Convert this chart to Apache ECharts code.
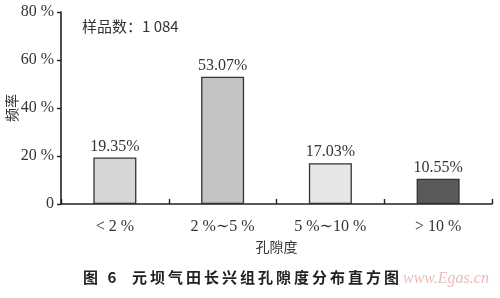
<!DOCTYPE html>
<html>
<head>
<meta charset="utf-8">
<style>
  html, body { margin: 0; padding: 0; background: #fff; }
  #chart { width: 500px; height: 298px; }
</style>
<script src="https://cdn.jsdelivr.net/npm/echarts@6/dist/echarts.min.js"></script>
</head>
<body>
<div id="chart"></div>
<script>
// Porosity classes and their share of the samples (%)
const categories = ['< 2 %', '2 %~5 %', '5 %~10 %', '> 10 %'];
const frequencies = [19.35, 53.07, 17.03, 10.55];
const barColors = ['#d6d6d6', '#c4c4c4', '#e6e6e6', '#5a5a5a'];
const yTicks = [0, 20, 40, 60, 80];
const sampleNote = '样品数：1 084';
const figureTitle = '图 6  元坝气田长兴组孔隙度分布直方图';

const serif = '"Liberation Serif", "DejaVu Serif", serif';
const cjk = '"Noto Sans CJK SC", sans-serif';

// spread CJK glyphs apart with thin spaces, the way the caption is typeset
function spaced(s) { return s.split('').join('\u2009'); }

const chart = echarts.init(document.getElementById('chart'), null, { renderer: 'canvas' });

chart.setOption({
  animation: false,
  backgroundColor: '#ffffff',
  grid: { left: 61, right: 8, top: 12, bottom: 94, containLabel: false, outerBoundsMode: 'none' },
  title: [
    {
      text: spaced(figureTitle),
      left: 78, top: 265,
      textStyle: { fontFamily: cjk, fontSize: 15, fontWeight: 'bold', color: '#222' }
    },
    {
      text: 'www.Egas.cn',
      left: 398, top: 266,
      textStyle: { fontFamily: serif, fontSize: 16, fontStyle: 'italic', fontWeight: 'normal', color: 'rgba(214,120,120,0.5)' }
    }
  ],
  graphic: [
    {
      type: 'text',
      left: 82, top: 19,
      style: {
        text: sampleNote,
        font: '15px "Noto Sans CJK SC", "Liberation Serif", serif',
        fill: '#333'
      }
    }
  ],
  xAxis: {
    type: 'category',
    data: categories,
    name: '孔隙度',
    nameLocation: 'middle',
    nameGap: 36,
    nameMoveOverlap: false,
    nameTextStyle: { fontFamily: cjk, fontSize: 14, color: '#333' },
    axisLine: { lineStyle: { color: '#222', width: 1.6 } },
    axisTick: { show: true, inside: true, length: 5, alignWithLabel: false, lineStyle: { color: '#222', width: 1.4 } },
    axisLabel: {
      fontFamily: serif, fontSize: 16, color: '#333', margin: 15,
      formatter: function (v) { return v.replace('~', '∼'); }
    }
  },
  yAxis: {
    type: 'value',
    min: yTicks[0],
    max: yTicks[yTicks.length - 1],
    interval: yTicks[1] - yTicks[0],
    name: '频率',
    nameLocation: 'middle',
    nameGap: 42,
    nameMoveOverlap: false,
    nameRotate: 90,
    nameTextStyle: { fontFamily: cjk, fontSize: 14, color: '#333' },
    splitLine: { show: false },
    axisLine: { show: true, lineStyle: { color: '#222', width: 1.6 } },
    axisTick: { show: true, inside: false, length: 4, lineStyle: { color: '#222', width: 1.4 } },
    axisLabel: {
      fontFamily: serif, fontSize: 16, color: '#333', margin: 7,
      formatter: function (v) { return v === 0 ? '0' : v + ' %'; }
    }
  },
  series: [
    {
      type: 'bar',
      barWidth: 43,
      data: frequencies.map(function (v, i) {
        return {
          value: v,
          itemStyle: { color: barColors[i], borderColor: '#333', borderWidth: 1.3 }
        };
      }),
      label: {
        show: true,
        position: 'top',
        distance: 3,
        fontFamily: serif,
        fontSize: 16,
        color: '#333',
        formatter: function (p) { return p.value.toFixed(2) + '%'; }
      }
    }
  ]
});
</script>
</body>
</html>
